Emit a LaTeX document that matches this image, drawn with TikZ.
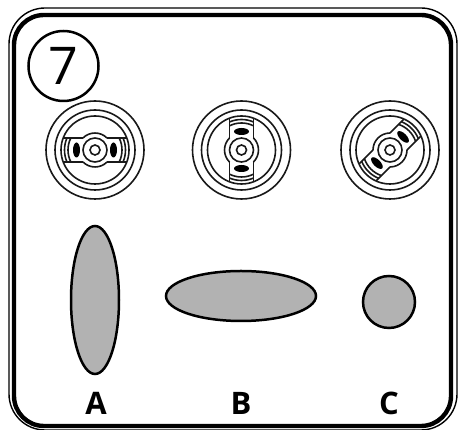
\documentclass[tikz,border=0pt]{standalone}
\usepackage{fontspec}
\setsansfont{Open Sans}
\newcommand{\wheelat}[3]{%
 \begin{scope}[shift={(#1,#2)},rotate=#3]
  \draw[wheelline] (0,0) circle[radius=49];
  \draw[wheelline] (0,0) circle[radius=40];
  \draw[wheelline] (0,0) circle[radius=34];
  \draw[wheelline] (12,12) -- (31.8,12) (-12,12) -- (-31.8,12);
  \draw[wheelline] (12,-12) -- (31.8,-12) (-12,-12) -- (-31.8,-12);
  \draw[wheelline] (12,12) arc[start angle=45,end angle=135,radius=17];
  \draw[wheelline] (-12,-12) arc[start angle=225,end angle=315,radius=17];
  \foreach \r in {27,30.5}{
   \pgfmathsetmacro{\ang}{asin(12/\r)}
   \draw[wheelline] (-\ang:\r) arc[start angle=-\ang,end angle=\ang,radius=\r];
   \draw[wheelline] (180-\ang:\r) arc[start angle=180-\ang,end angle=180+\ang,radius=\r];
  }
  \draw[wheelline] (0,0) circle[radius=12];
  \draw[wheelline] (0,0) circle[radius=5];
  \fill[black] (18.5,0) ellipse[x radius=3.5,y radius=7.5];
  \fill[black] (-18.5,0) ellipse[x radius=3.5,y radius=7.5];
 \end{scope}}
\tikzset{
 x=1pt,y=1pt,
 wheelline/.style={line width=1.6pt,draw=black!90},
 blob/.style={draw=black,line width=2.5pt,fill=shapegray},
 letter/.style={font=\sffamily\bfseries\fontsize{31}{31}\selectfont,inner sep=0pt,anchor=center}
}
\definecolor{shapegray}{gray}{0.70}
\begin{document}
\begin{tikzpicture}
 \useasboundingbox (0,0) rectangle (458,430);
 \draw[line width=1.4pt,rounded corners=36pt] (9,0) rectangle (457,422);
 \draw[line width=4.4pt,rounded corners=30pt] (14,4) rectangle (451,415);
 \node[circle,draw=black,line width=2.5pt,minimum size=70pt,inner sep=0pt] (seven) at (63.5,364) {};
 \node[font=\sffamily\fontsize{52}{52}\selectfont,inner sep=0pt] (sevenlabel) at (63.5,364) {7};
 \wheelat{95}{280}{0}
 \wheelat{241.5}{280}{90}
 \wheelat{390}{280}{45}
 \draw[blob] (95,130) ellipse[x radius=24,y radius=74];
 \draw[blob] (241,134) ellipse[x radius=75,y radius=25];
 \draw[blob] (389,128) circle[radius=26];
 \node[letter] (a) at (96,26.5) {A};
 \node[letter] (b) at (241,26.5) {B};
 \node[letter] (c) at (389,26.5) {C};
\end{tikzpicture}
\end{document}
